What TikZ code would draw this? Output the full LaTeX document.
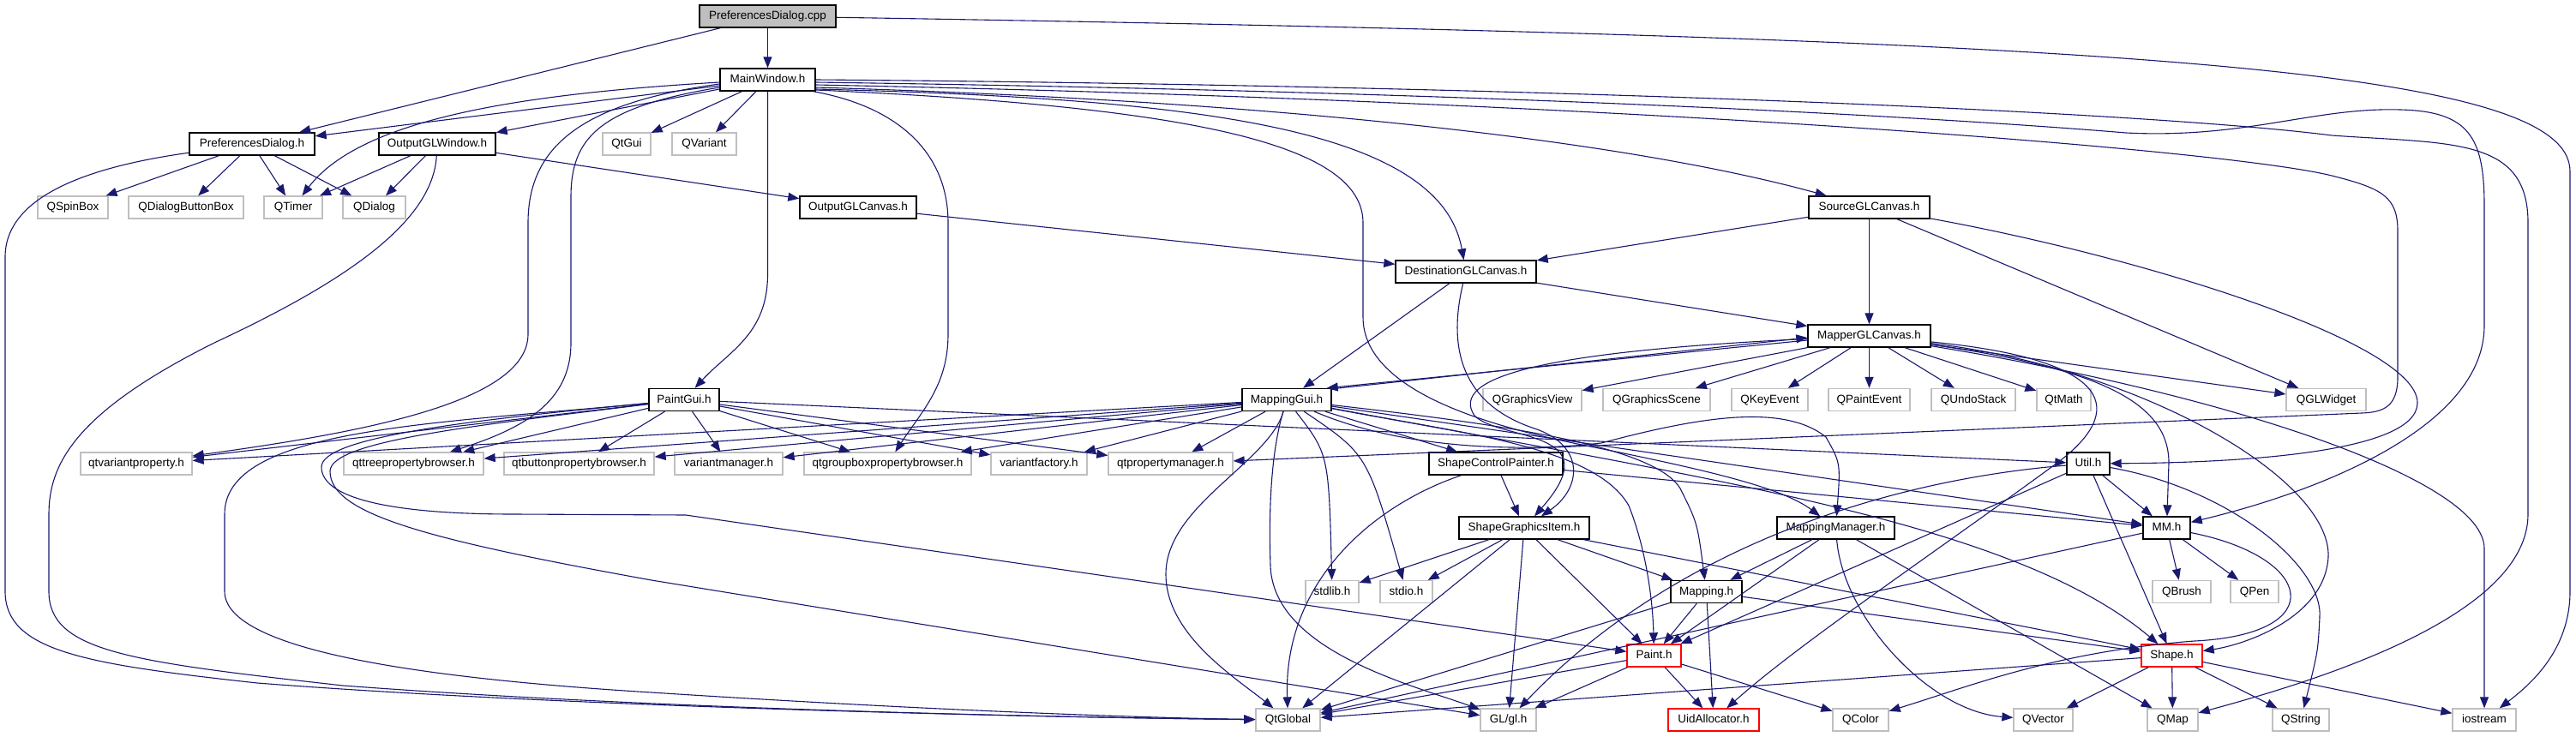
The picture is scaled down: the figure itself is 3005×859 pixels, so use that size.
\documentclass[tikz,border=0pt]{standalone}
\usepackage{fontspec}
\setmainfont{Liberation Sans}
\usetikzlibrary{arrows.meta}
\definecolor{edgec}{HTML}{191970}
\definecolor{grayb}{HTML}{BFBFBF}
\tikzset{
  box/.style={rectangle, minimum height=26pt, inner sep=0pt, fill=white,
    font=\fontsize{13.5}{16}\selectfont, text height=9.8pt, text depth=2.8pt},
  doc/.style={box, draw=black, line width=1.4pt},
  ext/.style={box, draw=grayb, line width=1.3pt},
  redb/.style={box, draw=red, line width=1.4pt},
  rootbox/.style={box, draw=black, line width=1.4pt, fill=grayb},
  ln/.style={draw=edgec, line width=1.1pt, -{Triangle[length=13pt,width=10pt]}}
}
\begin{document}
\begin{tikzpicture}[x=1pt,y=-1pt]
\fill[white] (0,0) rectangle (3005,859);
\useasboundingbox (0,0) rectangle (3005,859);

% nodes
\node[rootbox, minimum width=159pt] (pdcpp) at (895.5,19) {PreferencesDialog.cpp};
\node[doc, minimum width=111pt] (mw) at (895.5,93) {MainWindow.h};
\node[doc, minimum width=146pt] (pdh) at (294,168) {PreferencesDialog.h};
\node[doc, minimum width=136pt] (oglw) at (510,168) {OutputGLWindow.h};
\node[ext, minimum width=56pt] (qtgui) at (731,168) {QtGui};
\node[ext, minimum width=75pt] (qvariant) at (821.5,168) {QVariant};
\node[ext, minimum width=82pt] (qspinbox) at (85,242) {QSpinBox};
\node[ext, minimum width=134pt] (qdbb) at (217,242) {QDialogButtonBox};
\node[ext, minimum width=68pt] (qtimer) at (342,242) {QTimer};
\node[ext, minimum width=73pt] (qdialog) at (436.5,242) {QDialog};
\node[doc, minimum width=136pt] (oglc) at (1001,242) {OutputGLCanvas.h};
\node[doc, minimum width=141pt] (sglc) at (2180.5,242) {SourceGLCanvas.h};
\node[doc, minimum width=164pt] (dglc) at (1710,317) {DestinationGLCanvas.h};
\node[doc, minimum width=143pt] (mglc) at (2180.5,392) {MapperGLCanvas.h};
\node[doc, minimum width=104pt] (mgui) at (1501,466.5) {MappingGui.h};
\node[doc, minimum width=82pt] (paintgui) at (798,466.5) {PaintGui.h};
\node[ext, minimum width=115pt] (qgview) at (1787.5,466.5) {QGraphicsView};
\node[ext, minimum width=125pt] (qgscene) at (1932.5,466.5) {QGraphicsScene};
\node[ext, minimum width=89pt] (qkeyevent) at (2064.5,466.5) {QKeyEvent};
\node[ext, minimum width=95pt] (qpaintevent) at (2180.5,466.5) {QPaintEvent};
\node[ext, minimum width=98pt] (qundostack) at (2302,466.5) {QUndoStack};
\node[ext, minimum width=63pt] (qtmath) at (2407.5,466.5) {QtMath};
\node[ext, minimum width=93pt] (qglwidget) at (2713.5,466.5) {QGLWidget};
\node[ext, minimum width=130pt] (qtvarprop) at (159,541) {qtvariantproperty.h};
\node[ext, minimum width=163pt] (qttree) at (482.5,541) {qttreepropertybrowser.h};
\node[ext, minimum width=175pt] (qtbutton) at (675.5,541) {qtbuttonpropertybrowser.h};
\node[ext, minimum width=126pt] (varmgr) at (850,541) {variantmanager.h};
\node[ext, minimum width=195pt] (qtgroupbox) at (1035.5,541) {qtgroupboxpropertybrowser.h};
\node[ext, minimum width=112pt] (varfactory) at (1212,541) {variantfactory.h};
\node[ext, minimum width=145pt] (qtpropmgr) at (1365.5,541) {qtpropertymanager.h};
\node[doc, minimum width=156pt] (scp) at (1745,541) {ShapeControlPainter.h};
\node[doc, minimum width=50pt] (util) at (2436,541) {Util.h};
\node[doc, minimum width=152pt] (sgi) at (1778,616) {ShapeGraphicsItem.h};
\node[doc, minimum width=137pt] (mmgr) at (2141.5,616) {MappingManager.h};
\node[doc, minimum width=55pt] (mmh) at (2527.5,616) {MM.h};
\node[ext, minimum width=62pt] (stdlib) at (1554,690.5) {stdlib.h};
\node[ext, minimum width=61pt] (stdio) at (1640.5,690.5) {stdio.h};
\node[doc, minimum width=83pt] (mapping) at (1990.5,690.5) {Mapping.h};
\node[ext, minimum width=68pt] (qbrush) at (2545,690.5) {QBrush};
\node[ext, minimum width=56pt] (qpen) at (2630,690.5) {QPen};
\node[redb, minimum width=63pt] (paint) at (1929.5,765) {Paint.h};
\node[redb, minimum width=71pt] (shape) at (2533.5,765) {Shape.h};
\node[ext, minimum width=75pt] (qtglobal) at (1502.5,840) {QtGlobal};
\node[ext, minimum width=65pt] (glgl) at (1759.5,840) {GL/gl.h};
\node[redb, minimum width=106pt] (uid) at (1999,840) {UidAllocator.h};
\node[ext, minimum width=65pt] (qcolor) at (2170.5,840) {QColor};
\node[ext, minimum width=69pt] (qvector) at (2383.5,840) {QVector};
\node[ext, minimum width=59pt] (qmap) at (2534.5,840) {QMap};
\node[ext, minimum width=66pt] (qstring) at (2684,840) {QString};
\node[ext, minimum width=74pt] (iostream) at (2898,840) {iostream};

% PreferencesDialog.cpp
\draw[ln] (pdcpp) -- (pdh);
\draw[ln] (pdcpp) -- (mw);
\draw[ln] (pdcpp) .. controls (2500,45) and (2998,80) .. (2998,200) -- (2998,690) .. controls (2998,760) and (2950,800) .. (iostream);

% PreferencesDialog.h
\draw[ln] (pdh) -- (qspinbox);
\draw[ln] (pdh) -- (qdbb);
\draw[ln] (pdh) -- (qtimer);
\draw[ln] (pdh) -- (qdialog);
\draw[ln] (pdh) .. controls (100,195) and (6,230) .. (6,300) -- (6,690) .. controls (6,760) and (100,775) .. (300,797) .. controls (700,828) and (1300,838) .. (qtglobal);

% MainWindow.h
\draw[ln] ([yshift=-7pt]mw.west) -- (pdh);
\draw[ln] ([yshift=-3pt]mw.west) .. controls (600,110) and (420,140) .. (qtimer);
\draw[ln] ([yshift=-11pt]mw.west) -- (oglw);
\draw[ln] (mw) -- (qtgui);
\draw[ln] (mw) -- (qvariant);
\draw[ln] (mw) -- (895.5,320) .. controls (895.5,390) and (850,410) .. (paintgui);
\draw[ln] ([yshift=-5pt]mw.west) .. controls (680,120) and (616,170) .. (616,260) -- (616,390) .. controls (616,470) and (420,505) .. (qtvarprop);
\draw[ln] ([yshift=-9pt]mw.west) .. controls (700,125) and (666,160) .. (666,230) -- (666,400) .. controls (666,470) and (610,500) .. (qttree);
\draw[ln] ([xshift=-3pt]mw.south east) .. controls (1050,125) and (1106,180) .. (1106,260) -- (1106,390) .. controls (1106,450) and (1075,480) .. (qtgroupbox);
\draw[ln] ([yshift=-11pt]mw.east) .. controls (1400,115) and (1680,150) .. (dglc);
\draw[ln] ([yshift=-9pt]mw.east) .. controls (1500,118) and (1900,165) .. (sglc);
\draw[ln] ([yshift=-12pt]mw.east) .. controls (1400,125) and (1590,170) .. (1590,260) -- (1590,370) .. controls (1590,460) and (1750,500) .. (1850,520) .. controls (2000,550) and (2080,570) .. (mmgr);
\draw[ln] (mw.east) .. controls (1800,100) and (2500,130) .. (2720,158) .. controls (2860,168) and (2949,160) .. (2949,260) -- (2949,600) .. controls (2949,720) and (2700,795) .. (qmap);
\draw[ln] ([yshift=-3pt]mw.east) .. controls (1800,108) and (2300,140) .. (2480,155) .. controls (2620,162) and (2700,125) .. (2800,128) .. controls (2880,130) and (2898,160) .. (2898,240) -- (2898,380) .. controls (2898,500) and (2700,575) .. (mmh);
\draw[ln] ([yshift=-6pt]mw.east) .. controls (1900,118) and (2600,175) .. (2720,205) .. controls (2780,220) and (2797,230) .. (2797,270) -- (2797,440) .. controls (2797,475) and (2780,481) .. (2755,482) -- (qtpropmgr);

% OutputGLWindow.h
\draw[ln] (oglw) -- (qtimer);
\draw[ln] (oglw) -- (qdialog);
\draw[ln] (oglw) -- (oglc);
\draw[ln] (oglw) .. controls (505,260) and (400,330) .. (250,400) .. controls (90,480) and (57,540) .. (57,600) -- (57,690) .. controls (57,760) and (150,772) .. (400,800) .. controls (800,830) and (1300,838) .. (qtglobal);

% OutputGLCanvas.h
\draw[ln] (oglc) -- (dglc);

% SourceGLCanvas.h
\draw[ln] (sglc) -- (dglc);
\draw[ln] (sglc) -- (mglc);
\draw[ln] (sglc) -- (qglwidget);
\draw[ln] (sglc) .. controls (2500,300) and (2820,400) .. (2820,470) .. controls (2820,530) and (2600,540) .. (util);

% DestinationGLCanvas.h
\draw[ln] (dglc) -- (mglc);
\draw[ln] (dglc) -- (mgui);
\draw[ln] (dglc) .. controls (1690,400) and (1700,470) .. (1790,500) .. controls (1850,520) and (1845,570) .. (sgi);

% MapperGLCanvas.h
\draw[ln] ([yshift=-5pt]mglc.west) -- ([xshift=-6pt]mgui.north east);
\draw[ln] ([yshift=-1pt]mgui.north east) -- ([yshift=-2pt]mglc.west);
\draw[ln] (mglc) -- (qgview);
\draw[ln] (mglc) -- (qgscene);
\draw[ln] (mglc) -- (qkeyevent);
\draw[ln] (mglc) -- (qpaintevent);
\draw[ln] (mglc) -- (qundostack);
\draw[ln] (mglc) -- (qtmath);
\draw[ln] (mglc) -- (qglwidget);
\draw[ln] (mglc) .. controls (2450,430) and (2530,470) .. (2530,540) -- (mmh);
\draw[ln] (mglc) .. controls (2500,430) and (2720,560) .. (2716,650) .. controls (2712,720) and (2620,752) .. (shape);
\draw[ln] (mglc) .. controls (2600,460) and (2898,560) .. (2898,640) -- (iostream);
\draw[ln] (mglc) .. controls (2470,420) and (2480,480) .. (2400,540) .. controls (2250,650) and (2100,750) .. (uid);
\draw[ln] (mglc) .. controls (1800,410) and (1690,440) .. (1720,485) .. controls (1750,515) and (1880,500) .. (sgi);

% MappingGui.h
\draw[ln] (mgui) -- (qtvarprop);
\draw[ln] (mgui) -- (qttree);
\draw[ln] (mgui) -- (qtbutton);
\draw[ln] (mgui) -- (varmgr);
\draw[ln] (mgui) -- (qtgroupbox);
\draw[ln] (mgui) -- (varfactory);
\draw[ln] (mgui) -- (qtpropmgr);
\draw[ln] (mgui) -- (scp);
\draw[ln] (mgui) .. controls (1550,530) .. (stdlib);
\draw[ln] (mgui) .. controls (1595,530) .. (stdio);
\draw[ln] (mgui) .. controls (1700,505) and (1860,520) .. (1900,590) .. controls (1920,640) and (1928,700) .. (paint);
\draw[ln] (mgui) .. controls (1750,495) and (1930,520) .. (1960,570) .. controls (1980,610) .. (mapping);
\draw[ln] (mgui) .. controls (1650,530) and (1800,525) .. (1868,517) .. controls (1980,487) and (2080,470) .. (2130,510) .. controls (2147,540) .. (mmgr);
\draw[ln] (mgui) -- (mmh);
\draw[ln] (mgui) .. controls (2000,560) and (2350,610) .. (shape);
\draw[ln] (mgui) .. controls (1480,540) and (1360,590) .. (1360,670) .. controls (1360,740) and (1440,790) .. (qtglobal);
\draw[ln] (mgui) .. controls (1482,530) and (1480,600) .. (1482,660) .. controls (1485,760) and (1650,800) .. (glgl);

% PaintGui.h
\draw[ln] (paintgui) -- (qtvarprop);
\draw[ln] (paintgui) -- (qttree);
\draw[ln] (paintgui) -- (qtbutton);
\draw[ln] (paintgui) -- (varmgr);
\draw[ln] (paintgui) -- (qtgroupbox);
\draw[ln] (paintgui) -- (varfactory);
\draw[ln] (paintgui) -- (qtpropmgr);
\draw[ln] (paintgui) -- (util);
\draw[ln] (paintgui) .. controls (500,495) and (262,500) .. (262,600) -- (262,690) .. controls (262,760) and (500,792) .. (760,808) .. controls (1100,830) and (1350,838) .. (qtglobal);
\draw[ln] (paintgui) .. controls (550,490) and (375,510) .. (375,545) .. controls (375,580) and (450,600) .. (600,600) -- (800,601) -- (paint);
\draw[ln] (paintgui) .. controls (550,497) and (385,515) .. (385,550) .. controls (385,600) and (500,630) .. (760,677) -- (glgl);

% ShapeControlPainter.h
\draw[ln] (scp) -- (sgi);
\draw[ln] (scp) .. controls (1600,590) and (1497,680) .. (qtglobal);
\draw[ln] (scp) -- (mmh);

% ShapeGraphicsItem.h
\draw[ln] (sgi) -- (stdlib);
\draw[ln] (sgi) -- (stdio);
\draw[ln] (sgi) -- (qtglobal);
\draw[ln] (sgi) -- (glgl);
\draw[ln] (sgi) -- (paint);
\draw[ln] (sgi) -- (mapping);
\draw[ln] (sgi) -- (shape);

% MappingManager.h
\draw[ln] (mmgr) -- (mapping);
\draw[ln] (mmgr) -- (paint);
\draw[ln] (mmgr) .. controls (2150,720) and (2250,830) .. (qvector);
\draw[ln] (mmgr) -- (qmap);

% Mapping.h
\draw[ln] (mapping) -- (paint);
\draw[ln] (mapping) -- (uid);
\draw[ln] (mapping) -- (qtglobal);
\draw[ln] (mapping) -- (shape);

% Paint.h
\draw[ln] (paint) -- (qtglobal);
\draw[ln] (paint) -- (glgl);
\draw[ln] (paint) -- (uid);
\draw[ln] (paint) -- (qcolor);

% Shape.h
\draw[ln] (shape) -- (qtglobal);
\draw[ln] (shape) -- (qvector);
\draw[ln] (shape) -- (qmap);
\draw[ln] (shape) -- (qstring);
\draw[ln] (shape) -- (iostream);

% MM.h
\draw[ln] (mmh) -- (qbrush);
\draw[ln] (mmh) -- (qpen);
\draw[ln] (mmh) -- (qtglobal);
\draw[ln] (mmh) .. controls (2700,650) and (2720,740) .. (2560,748) .. controls (2400,760) and (2300,800) .. (qcolor);

% Util.h
\draw[ln] (util) -- (mmh);
\draw[ln] (util) -- (shape);
\draw[ln] (util) .. controls (2600,570) and (2710,660) .. (2706,720) .. controls (2704,760) .. (qstring);
\draw[ln] (util) -- (paint);
\draw[ln] (util) .. controls (2200,560) and (1950,640) .. (glgl);
\end{tikzpicture}
\end{document}
